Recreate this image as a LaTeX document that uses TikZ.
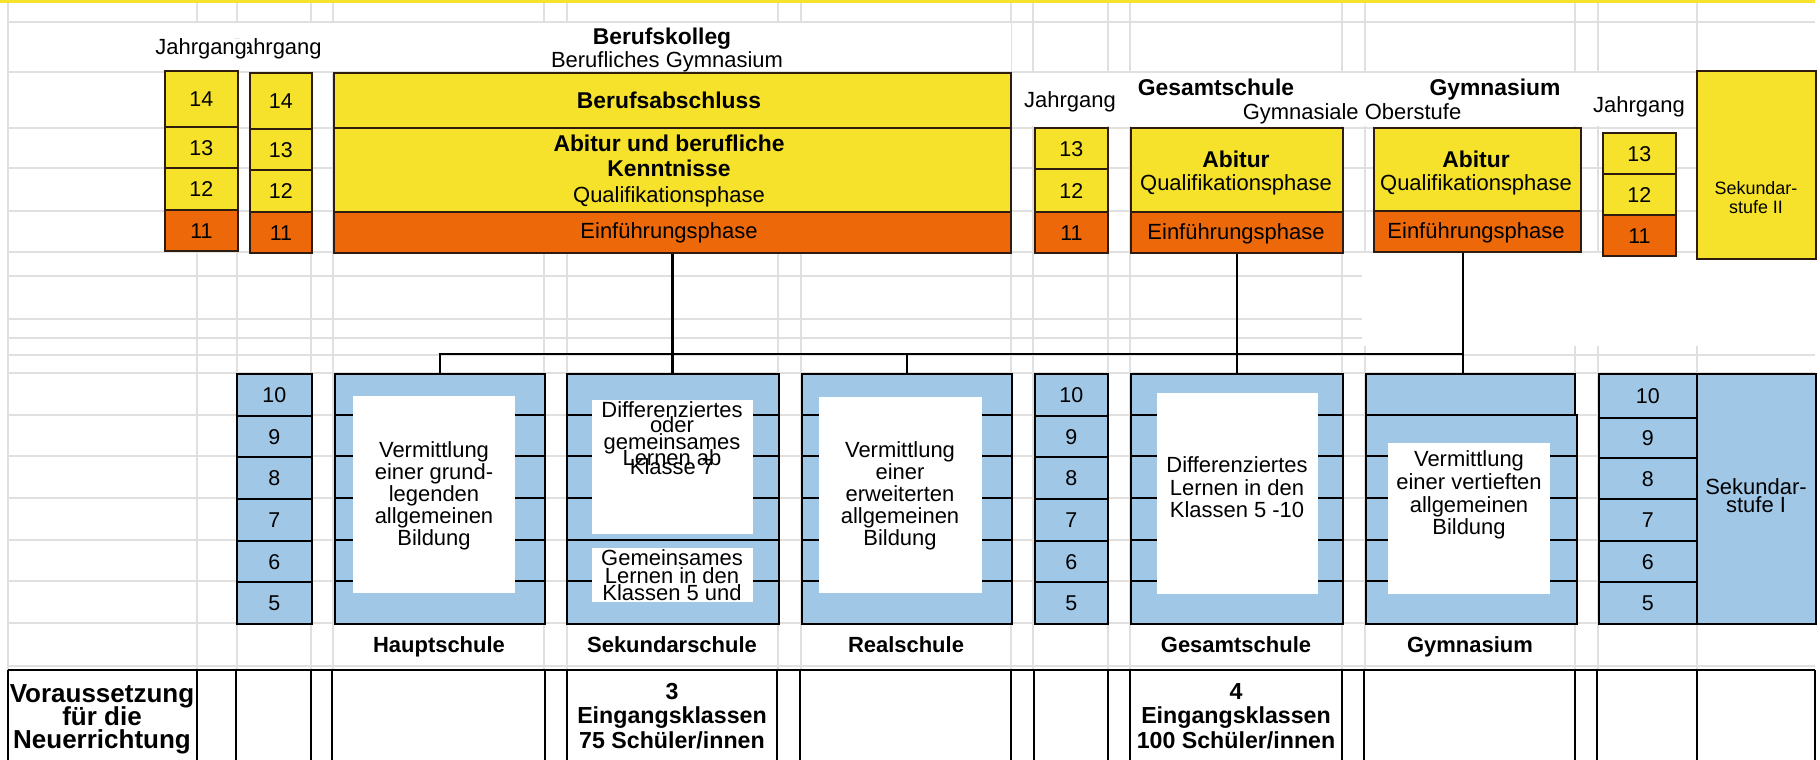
\documentclass[tikz,border=0pt]{standalone}
\usepackage{fontspec}
\setmainfont{Liberation Sans}
\definecolor{yel}{RGB}{246,226,42}
\definecolor{ora}{RGB}{236,104,8}
\definecolor{blu}{RGB}{160,199,230}
\definecolor{grd}{RGB}{224,224,224}
\definecolor{brd}{RGB}{45,28,15}
\newcommand\mkbox[7]{\node[#6,anchor=north west,inner sep=0pt,minimum width={(#4-#2)*0.02cm},minimum height={(#5-#3)*0.02cm}] (#1) at (#2,#3) {#7};}
\newcommand\mlines[6]{\foreach \t [count=\k from 0] in {#6} {\node[#5] (#1-\k) at (#2,{#3+\k*#4}) {\t};}}
\begin{document}
\begin{tikzpicture}[x=0.02cm,y=-0.02cm,
  gridl/.style={draw=grd,line width=0.9pt},
  ybox/.style={draw=brd,fill=yel,line width=1pt},
  obox/.style={draw=brd,fill=ora,line width=1pt},
  bbox/.style={draw=black,fill=blu,line width=1pt},
  wbox/.style={fill=white,draw=none},
  rowl/.style={draw=black,line width=1pt},
  conn/.style={draw=black,line width=1.5pt},
  tbl/.style={draw=black,line width=1.1pt},
  tn/.style={inner sep=0pt,font=\fontsize{12.5}{12.5}\selectfont,text height=8.95pt,text depth=0pt},
  tb/.style={inner sep=0pt,font=\fontsize{13}{13}\selectfont\bfseries,text height=9.3pt,text depth=0pt},
  nm/.style={font=\fontsize{12.2}{12.2}\selectfont,text height=8.75pt,text depth=0pt},
  ts/.style={inner sep=0pt,font=\fontsize{10.2}{10.2}\selectfont,text height=7.3pt,text depth=0pt},
  tl/.style={inner sep=0pt,font=\fontsize{12.5}{12.5}\selectfont\bfseries,text height=8.95pt,text depth=0pt},
  tt/.style={inner sep=0pt,font=\fontsize{13.2}{13.2}\selectfont\bfseries,text height=9.45pt,text depth=0pt},
  tv/.style={inner sep=0pt,font=\fontsize{14.8}{14.8}\selectfont\bfseries,text height=10.6pt,text depth=0pt},
]
\useasboundingbox (0,0) rectangle (1820,760);
\fill[white] (0,0) rectangle (1820,760);
% spreadsheet grid
\foreach \y in {22,72,128,168,211,252,276,319,338,355,373,415,456,498,540,581,623,666}
  \draw[gridl] (8,\y) -- (1815,\y);
\foreach \x in {8,197,237,311,333,544,567,778,801,1011,1033,1108,1130,1342,1365,1575,1598,1697}
  \draw[gridl] (\x,3) -- (\x,670);
\fill[white] (150,23) rectangle (1011,71);
\fill[white] (1011,73.5) rectangle (1697,126);
\fill[white] (1362,253) rectangle (1815,346);
\fill[yel] (0,0) rectangle (1815,3.5);

% ---------- upper part ----------
\mkbox{c1a}{164}{70}{237}{126}{ybox,nm}{14}
\mkbox{c1b}{164}{126}{237}{167}{ybox,nm}{13}
\mkbox{c1c}{164}{167}{237}{209}{ybox,nm}{12}
\mkbox{c1d}{164}{209}{237}{250}{obox,nm}{11}
\mkbox{c2a}{249}{72}{311}{128}{ybox,nm}{14}
\mkbox{c2b}{249}{128}{311}{169}{ybox,nm}{13}
\mkbox{c2c}{249}{169}{311}{211}{ybox,nm}{12}
\mkbox{c2d}{249}{211}{311}{252}{obox,nm}{11}

\mkbox{bkA}{333}{72}{1010}{127}{ybox}{}
\mkbox{bkQ}{333}{127}{1010}{211}{ybox}{}
\mkbox{bkE}{333}{211}{1010}{252}{obox}{}

\mkbox{c3b}{1034}{127}{1107}{168}{ybox,nm}{13}
\mkbox{c3c}{1034}{168}{1107}{211}{ybox,nm}{12}
\mkbox{c3d}{1034}{211}{1107}{252}{obox,nm}{11}

\mkbox{gsQ}{1130}{127}{1342}{211}{ybox}{}
\mkbox{gsE}{1130}{211}{1342}{252}{obox}{}
\mkbox{gyQ}{1373}{127}{1580}{210}{ybox}{}
\mkbox{gyE}{1373}{210}{1580}{251}{obox}{}

\mkbox{c4b}{1602}{132}{1675}{173}{ybox,nm}{13}
\mkbox{c4c}{1602}{173}{1675}{214}{ybox,nm}{12}
\mkbox{c4d}{1602}{214}{1675}{255}{obox,nm}{11}

\mkbox{sek2}{1696}{70}{1815}{258}{ybox}{}

% ---------- lower part ----------
\foreach \a/\b/\n in {373/415/10,415/456/9,456/498/8,498/540/7,540/581/6,581/623/5}{
  \mkbox{lca\n}{236}{\a}{311}{\b}{bbox,nm}{\n}
  \mkbox{lcb\n}{1034}{\a}{1107}{\b}{bbox,nm}{\n}
}
\foreach \a/\b/\n in {373/417/10,417/457/9,457/498/8,498/540/7,540/581/6,581/623/5}{
  \mkbox{lcc\n}{1598}{\a}{1696}{\b}{bbox,nm}{\n}
}

\mkbox{haupt}{334}{373}{544}{623}{bbox}{}
\mkbox{sekS}{566}{373}{778}{623}{bbox}{}
\mkbox{real}{801}{373}{1011}{623}{bbox}{}
\mkbox{gesamt}{1130}{373}{1342}{623}{bbox}{}
\mkbox{gymT}{1365}{373}{1574}{414}{bbox}{}
\mkbox{gym}{1365}{414}{1576}{623}{bbox}{}
\mkbox{sek1}{1696}{373}{1815}{623}{bbox}{}

\foreach \y in {415,456,498,540,581}{
  \draw[rowl] (334,\y) -- (544,\y);
  \draw[rowl] (566,\y) -- (778,\y);
  \draw[rowl] (801,\y) -- (1011,\y);
  \draw[rowl] (1130,\y) -- (1342,\y);
}
\foreach \y in {456,498,540,581}
  \draw[rowl] (1365,\y) -- (1576,\y);

\mkbox{hW}{353}{396}{515}{593}{wbox}{}
\mkbox{sW1}{592}{400}{753}{534}{wbox}{}
\mkbox{sW2}{592}{548}{753}{602}{wbox}{}
\mkbox{rW}{819}{397}{982}{593}{wbox}{}
\mkbox{gW}{1157}{393}{1318}{594}{wbox}{}
\mkbox{yW}{1388}{443}{1550}{594}{wbox}{}

% ---------- connectors ----------
\coordinate (bus) at (0,354);
\coordinate (gyx) at (1463,0);
\draw[conn] (bkE.south) -- (bkE.south |- sekS.north);
\draw[conn] (haupt.north) -- (haupt.north |- bus) -- (bus -| gyx) -- (gyx |- gymT.north);
\draw[conn] (real.north) -- (real.north |- bus);
\draw[conn] (gsE.south) -- (gsE.south |- gesamt.north);
\draw[conn] (gyE.south -| gyx) -- (gyx |- bus);

% ---------- upper texts ----------
\node[tn,anchor=east] (jg2) at (322,47) {Jahrgang};
\node[tn,anchor=west,fill=white] (jg1) at (155,47) {Jahrgang};
\node[tb] (bkT) at (662,36) {Berufskolleg};
\node[tn] (bkS) at (667,60) {Berufliches Gymnasium};
\node[tb] (bkA1) at (669,100) {Berufsabschluss};
\node[tb] (bkQ1) at (669,143) {Abitur und berufliche};
\node[tb] (bkQ2) at (669,168) {Kenntnisse};
\node[tn] (bkQ3) at (669,195) {Qualifikationsphase};
\node[tn] (bkE1) at (669,231) {Einführungsphase};

\node[tn] (jg3) at (1070,100) {Jahrgang};
\node[tb] (gsT) at (1216,87) {Gesamtschule};
\node[tb] (gyT) at (1495,87) {Gymnasium};
\node[tn] (goT) at (1352,112) {Gymnasiale Oberstufe};
\node[tb] (gsQ1) at (1236,159) {Abitur};
\node[tn] (gsQ2) at (1236,183) {Qualifikationsphase};
\node[tn] (gsE1) at (1236,232) {Einführungsphase};
\node[tb] (gyQ1) at (1476,159) {Abitur};
\node[tn] (gyQ2) at (1476,183) {Qualifikationsphase};
\node[tn] (gyE1) at (1476,231) {Einführungsphase};
\node[tn] (jg4) at (1639,105) {Jahrgang};
\node[ts] (s2a) at (1756,188) {Sekundar-};
\node[ts] (s2b) at (1756,207) {stufe II};

% ---------- lower texts ----------
\mlines{ht}{434}{450}{22}{tn}{Vermittlung,einer grund-,legenden,allgemeinen,Bildung}
\node[tn] (st1) at (672,410) {Differenziertes};
\node[tn] (st2) at (672,425) {oder};
\node[tn] (st3) at (672,442) {gemeinsames};
\node[tn] (st4) at (672,458) {Lernen ab};
\node[tn] (st5) at (672,467) {Klasse 7};
\mlines{su}{672}{558}{17.5}{tn}{Gemeinsames,Lernen in den,Klassen 5 und}
\mlines{rt}{900}{450}{22}{tn}{Vermittlung,einer,erweiterten,allgemeinen,Bildung}
\mlines{gt}{1237}{465}{22.5}{tn}{Differenziertes,Lernen in den,Klassen 5 -10}
\mlines{yt}{1469}{459}{22.7}{tn}{Vermittlung,einer vertieften,allgemeinen,Bildung}
\node[tn] (s1a) at (1756,487) {Sekundar-};
\node[tn] (s1b) at (1756,505) {stufe I};

\node[tl] (lh) at (439,645) {Hauptschule};
\node[tl] (ls) at (672,645) {Sekundarschule};
\node[tl] (lr) at (906,645) {Realschule};
\node[tl] (lg) at (1236,645) {Gesamtschule};
\node[tl] (ly) at (1470,645) {Gymnasium};

% ---------- bottom table ----------
\draw[tbl] (8,670) -- (1815,670);
\foreach \x in {8,197,236,311,332,545,567,777,800,1011,1034,1108,1130,1342,1364,1575,1597,1697,1815}
  \draw[tbl] (\x,670) -- (\x,762);
\mlines{vt}{102}{693}{23}{tv}{Voraussetzung,für die,Neuerrichtung}
\mlines{s3}{672}{691}{24.5}{tt}{3,Eingangsklassen,75 Schüler/innen}
\mlines{g4}{1236}{691}{24.5}{tt}{4,Eingangsklassen,100 Schüler/innen}
\end{tikzpicture}
\end{document}
